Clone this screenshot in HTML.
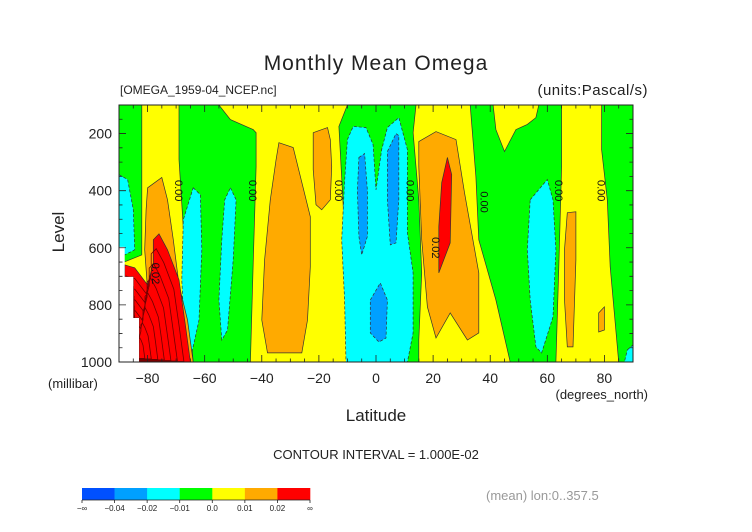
<!DOCTYPE html>
<html><head><meta charset="utf-8"><style>
body{margin:0;background:#fff;width:752px;height:532px;overflow:hidden}
svg{display:block;font-family:"Liberation Sans",sans-serif}
</style></head><body>
<svg id="c" width="752" height="532" viewBox="0 0 752 532">
<text x="376" y="70" text-anchor="middle" font-size="21" letter-spacing="1" fill="#222">Monthly Mean Omega</text>
<text x="120" y="94" font-size="12" fill="#222">[OMEGA_1959-04_NCEP.nc]</text>
<text x="648" y="95" text-anchor="end" font-size="15" letter-spacing="0.5" fill="#222">(units:Pascal/s)</text>
<text transform="translate(64,232) rotate(-90)" text-anchor="middle" font-size="17" fill="#222">Level</text>
<text x="48" y="388" font-size="13" fill="#222">(millibar)</text>
<text x="376" y="421" text-anchor="middle" font-size="17" fill="#222">Latitude</text>
<text x="648" y="399" text-anchor="end" font-size="13" fill="#222">(degrees_north)</text>
<text x="376" y="459" text-anchor="middle" font-size="13" fill="#222">CONTOUR INTERVAL = 1.000E-02</text>
<text x="486" y="500" font-size="13" fill="#999">(mean) lon:0..357.5</text>
<g id="plot"></g>
<g id="axes"></g>
<g id="cbar"></g>
</svg>
<script>
const xTicks=[-80,-60,-40,-20,0,20,40,60,80];
const yTicks=[200,400,600,800,1000];
const cbarColors=["#0050ff","#00a0ff","#00ffff","#00ff00","#ffff00","#ffaa00","#ff0000"];
const cbarLabels=["−∞","−0.04","−0.02","−0.01","0.0","0.01","0.02","∞"];
const yellowRegions=[
[[-82,100],[-69,100],[-69,291],[-67,607],[-65,888],[-64,1000],[-90,1000],[-90,660],[-88,649],[-82,625],[-82,572]],
[[-55,100],[-10,100],[-13,175],[-10,723],[-9,1000],[-44,1000],[-43,653],[-42,316],[-42,197],[-43,186],[-51,151]],
[[14,100],[33,100],[35,351],[36,572],[42,783],[47,1000],[15,1000],[15,923],[16,688],[15,432],[13,197]],
[[41,100],[57,100],[56,144],[53,168],[49,186],[45,263],[42,186]],
[[65,100],[79,100],[79,256],[81,432],[82,667],[85,1000],[63,1000],[64,667],[65,316]]];
const orangeRegions=[
[[-80,390],[-75,354],[-73,432],[-71,572],[-69,730],[-66,853],[-64,1000],[-79,1000],[-80,747],[-81,607],[-80.5,467]],
[[-34,232],[-29,249],[-23,491],[-23,667],[-24,853],[-26,968],[-38,968],[-40,853],[-39,642],[-37,432],[-35,291]],
[[-22,197],[-17,179],[-16,221],[-15.5,316],[-16,432],[-19,467],[-21,449],[-22,326]],
[[15,228],[21,193],[28,221],[31,407],[36,688],[36,898],[32,923],[26,828],[21,916],[18,807],[16,572],[15,316]],
[[67,477],[70,474],[70,642],[69,947],[67,947],[66,783],[66,607]],
[[78,828],[80,807],[80,888],[78,895]]];
const redRegions=[
[[-78,572],[-76,551],[-73,607],[-69,712],[-67,853],[-65,1000],[-83,1000],[-83,846],[-85,846],[-85,702],[-88,702],[-88,660],[-84.5,670],[-80,730],[-78,653]],
[[25,284],[26.5,344],[26,583],[22,688],[22,526],[23,372]]];
const cyanRegions=[
[[-90,344],[-87,361],[-85,467],[-84.5,607],[-88,625],[-90,625]],
[[-64,390],[-61.5,414],[-61,607],[-62,853],[-64.5,968],[-67,923],[-68,712],[-67.5,502]],
[[-51,390],[-49,432],[-50,642],[-52,888],[-54,923],[-55,783],[-54,572],[-53,432]],
[[-10,221],[-8,175],[-3.5,179],[-1,239],[0,397],[2,256],[4,179],[8,144],[11,256],[11,548],[13,688],[13,898],[11,1000],[-10.5,1000],[-11,783],[-12,572],[-11,367]],
[[54,432],[60,361],[62,432],[63,607],[62,842],[58,968],[56,947],[54,783],[53,607]],
[[88,958],[90,940],[90,1000],[87,1000]]];
const blueRegions=[
[[-6,284],[-4,270],[-3,400],[-3,560],[-5,625],[-6,560],[-6.5,400]],
[[4,263],[7,200],[8,207],[8,432],[7,583],[5,590],[4,432]],
[[-2,783],[1.5,723],[4,783],[3.5,916],[1,930],[-2,898]]];
const missingRegion=[[-90,597],[-88,597],[-88,702],[-85,702],[-85,846],[-83,846],[-83,1000],[-90,1000]];
const zeroLabels=[[-69,400],[-43,400],[-13,400],[12,400],[38,440],[64,400],[79,400]];
const highLabels=[[-77,690],[21,600]];

const X0=119,X1=633,Y0=105,Y1=362;
const x=lat=>X0+(lat+90)/180*(X1-X0);
const y=lev=>Y1-(1000-lev)/900*(Y1-Y0);
const NS="http://www.w3.org/2000/svg";
function mk(tag,attrs,parent){const e=document.createElementNS(NS,tag);for(const k in attrs)e.setAttribute(k,attrs[k]);parent.appendChild(e);return e;}
const plot=document.getElementById('plot');
const clip=mk('clipPath',{id:'pc'},plot);mk('rect',{x:X0,y:Y0,width:X1-X0,height:Y1-Y0},clip);
const g=mk('g',{'clip-path':'url(#pc)'},plot);
const bg=mk('rect',{x:X0,y:Y0,width:X1-X0,height:Y1-Y0,fill:"#00ff00"},g);


const pts=p=>p.map(q=>x(q[0]).toFixed(1)+","+y(q[1]).toFixed(1)).join(" ");
function drawSet(set,fill,name,dash){set.forEach((p,i)=>{const e=mk('polygon',{points:pts(p),fill:fill,stroke:"#333",'stroke-width':0.7,'stroke-dasharray':dash?'3,2':'none'},g);

});}
drawSet(yellowRegions,"#ffff00","yellow-region",false);
drawSet(cyanRegions,"#00ffff","cyan-region",true);
drawSet(orangeRegions,"#ffaa00","orange-region",false);
drawSet(redRegions,"#ff0000","red-region",false);
drawSet(blueRegions,"#00a0ff","blue-region",true);
// dense contours inside lower-left red region
const r0=redRegions[0],anc=[-84,985];
for(let k=1;k<=7;k++){const f=1-k*0.12;const p=r0.map(q=>[anc[0]+(q[0]-anc[0])*f,anc[1]+(q[1]-anc[1])*f]);
const e=mk('polygon',{points:pts(p),fill:'none',stroke:'#700000','stroke-width':0.8},g);

}
const wm=mk('polygon',{points:pts(missingRegion),fill:'#fff'},g);


function lab(list,txt,name){list.forEach((q,i)=>{const t=mk('text',{transform:`translate(${x(q[0])-4},${y(q[1])}) rotate(90)`,'text-anchor':'middle','font-size':11,fill:'#111'},g);t.textContent=txt;

});}
lab(zeroLabels,"0.00","zero-contour-label");
lab(highLabels,"0.02","contour-label-0-02");
// axes
const ax=document.getElementById('axes');
const fr=mk('rect',{x:X0,y:Y0,width:X1-X0,height:Y1-Y0,fill:'none',stroke:'#222','stroke-width':1},ax);


let d="";
for(let l=-90;l<=90;l+=5){const M=l%20===0;const L=M?7:3.5;d+=`M${x(l)},${Y1}v${-L}M${x(l)},${Y0}v${L}`;}
for(let v=100;v<=1000;v+=50){const M=v%200===0;const L=M?7:3.5;d+=`M${X0},${y(v)}h${L}M${X1},${y(v)}h${-L}`;}
const tk=mk('path',{d:d,stroke:'#222','stroke-width':0.8,fill:'none'},ax);


xTicks.forEach(v=>{const t=mk('text',{x:x(v),y:383,'text-anchor':'middle','font-size':14,fill:'#222'},ax);t.textContent=v<0?"−"+(-v):""+v;

});
yTicks.forEach(v=>{const t=mk('text',{x:112,y:y(v)+5,'text-anchor':'end','font-size':14,fill:'#222'},ax);t.textContent=v;

});
// colorbar
const cb=document.getElementById('cbar');const cx0=82,cx1=310,w=(cx1-cx0)/cbarColors.length;
cbarColors.forEach((c,i)=>{const r=mk('rect',{x:cx0+i*w,y:488,width:w+0.3,height:12,fill:c},cb);

});
const cl=mk('path',{d:`M${cx0},500H${cx1}`+cbarLabels.map((_,i)=>`M${cx0+i*w},500v3`).join(''),stroke:'#222','stroke-width':0.8},cb);


cbarLabels.forEach((s,i)=>{const t=mk('text',{x:cx0+i*w,y:511,'text-anchor':'middle','font-size':8,fill:'#222'},cb);t.textContent=s;

});
</script>
</body></html>
